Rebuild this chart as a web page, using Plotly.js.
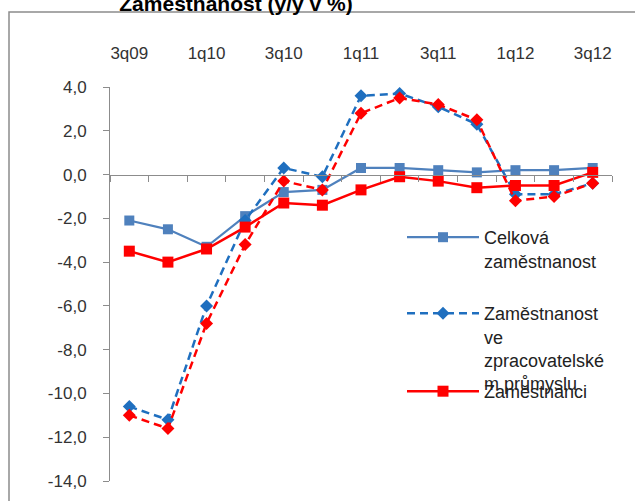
<!DOCTYPE html>
<html>
<head>
<meta charset="utf-8">
<script src="https://cdn.plot.ly/plotly-3.0.1.min.js"></script>
<style>html,body{margin:0;padding:0;background:#fff;}#chart{width:635px;height:501px;}</style>
</head>
<body>
<div id="chart"></div>
<script>
var categories = ['3q09','4q09','1q10','2q10','3q10','4q10','1q11','2q11','3q11','4q11','1q12','2q12','3q12'];
var xTickVals = ['3q09','1q10','3q10','1q11','3q11','1q12','3q12'];
var celkova = [-2.1, -2.5, -3.3, -1.9, -0.8, -0.7, 0.3, 0.3, 0.2, 0.1, 0.2, 0.2, 0.3];
var zpracovatelsky = [-10.6, -11.2, -6.0, -2.1, 0.3, -0.1, 3.6, 3.7, 3.1, 2.3, -0.9, -0.9, -0.4];
var zamestnanci = [-3.5, -4.0, -3.4, -2.4, -1.3, -1.4, -0.7, -0.1, -0.3, -0.6, -0.5, -0.5, 0.1];
var zamestnanciZprac = [-11.0, -11.6, -6.8, -3.2, -0.3, -0.7, 2.8, 3.5, 3.2, 2.5, -1.2, -1.0, -0.4];
var yTickVals = [-14, -12, -10, -8, -6, -4, -2, 0, 2, 4];
var yTickText = ['-14,0','-12,0','-10,0','-8,0','-6,0','-4,0','-2,0','0,0','2,0','4,0'];
var names = ['Celková<br>zaměstnanost', 'Zaměstnanost<br>ve<br>zpracovatelské<br>m průmyslu', 'Zaměstnanci', 'Zaměstnanci ve zpracovatelském průmyslu'];

var yMin = -14, yMax = 4;
var W = 635, H = 501, L = 110, R = 23, T = 87, B = 20;
var pw = W - L - R, ph = H - T - B;
function px2x(p){ return (p - L) / pw; }
function px2y(p){ return (H - B - p) / ph; }

var traces = [
  {x: categories, y: celkova, name: names[0], type: 'scatter', mode: 'lines+markers', xaxis: 'x', yaxis: 'y',
   line: {color: '#4F81BD', width: 2.25}, marker: {symbol: 'square', size: 10, color: '#4F81BD'}, legend: 'legend'},
  {x: categories, y: zpracovatelsky, name: names[1], type: 'scatter', mode: 'lines+markers', xaxis: 'x', yaxis: 'y',
   line: {color: '#1F6FBF', width: 2.5, dash: '8px,5px'}, marker: {symbol: 'diamond', size: 10, color: '#1F6FBF'}, legend: 'legend2'},
  {x: categories, y: zamestnanci, name: names[2], type: 'scatter', mode: 'lines+markers', xaxis: 'x', yaxis: 'y',
   line: {color: '#FF0000', width: 2.5}, marker: {symbol: 'square', size: 11, color: '#FF0000'}, legend: 'legend3'},
  {x: categories, y: zamestnanciZprac, name: names[3], type: 'scatter', mode: 'lines+markers', xaxis: 'x2', yaxis: 'y',
   line: {color: '#FF0000', width: 2.5, dash: '8px,5px'}, marker: {symbol: 'diamond', size: 10, color: '#FF0000'}, showlegend: false}
];

var legFont = {family: 'Liberation Sans, Arial, sans-serif', size: 18, color: '#222'};
function leg(px, py){
  return {x: px2x(px), y: px2y(py), xanchor: 'left', yanchor: 'top', bgcolor: 'rgba(0,0,0,0)',
          font: legFont, itemwidth: 72, valign: 'top', tracegroupgap: 0, borderwidth: 0};
}

var layout = {
  width: W, height: H,
  margin: {l: L, r: R, t: T, b: B, pad: 0},
  paper_bgcolor: '#fff', plot_bgcolor: 'rgba(0,0,0,0)',
  font: {family: 'Liberation Sans, Arial, sans-serif', color: '#333'},
  title: {text: '<b>Zaměstnanost (y/y v %)</b>', x: 236 / W, xanchor: 'center', xref: 'container',
          y: 1 - 4 / H, yref: 'container', yanchor: 'middle',
          font: {family: 'Liberation Sans, Arial, sans-serif', size: 21, color: '#000'}},
  showlegend: true,
  legend: leg(402, 219),
  legend2: leg(402, 295),
  legend3: leg(402, 373),
  xaxis: {type: 'category', categoryorder: 'array', categoryarray: categories, range: [-0.5, categories.length - 0.5],
          anchor: 'free', position: (0 - yMin) / (yMax - yMin), side: 'bottom',
          showline: true, linecolor: '#8c8c8c', linewidth: 1, ticks: 'outside', ticklen: 6, tickcolor: '#8c8c8c',
          tickson: 'boundaries', showticklabels: false, showgrid: false, zeroline: false, fixedrange: true},
  xaxis2: {type: 'category', categoryorder: 'array', categoryarray: categories, range: [-0.5, categories.length - 0.5],
           overlaying: 'x', anchor: 'y', side: 'top', showline: false, ticks: '', showgrid: false, zeroline: false,
           tickmode: 'array', tickvals: xTickVals, ticktext: xTickVals, ticklabelstandoff: 24,
           tickfont: {size: 17, color: '#333'}, fixedrange: true},
  yaxis: {range: [yMin, yMax], tickmode: 'array', tickvals: yTickVals, ticktext: yTickText,
          showline: true, linecolor: '#8c8c8c', linewidth: 1, ticks: 'outside', ticklen: 6, tickcolor: '#8c8c8c',
          showgrid: false, zeroline: false, ticklabelstandoff: 13, tickfont: {size: 17, color: '#333'}, fixedrange: true},
  shapes: [
    {type: 'rect', xref: 'paper', yref: 'paper', x0: px2x(9), x1: px2x(645), y0: px2y(515), y1: px2y(12),
     line: {color: '#8c8c8c', width: 1.5}, fillcolor: 'rgba(0,0,0,0)', layer: 'below'}
  ]
};

Plotly.newPlot('chart', traces, layout, {displayModeBar: false, staticPlot: true});
</script>
</body>
</html>
